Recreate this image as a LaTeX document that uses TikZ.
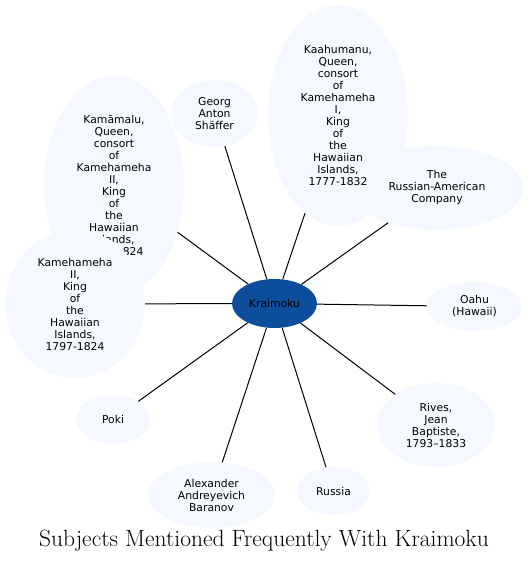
\documentclass[tikz,border=0pt]{standalone}
\usepackage{fontspec}
\newfontfamily\nodefont{DejaVu Sans}
\usetikzlibrary{shapes.geometric}
\definecolor{bubble}{RGB}{245,249,255}
\definecolor{hub}{RGB}{12,78,156}
\tikzset{
  subjtext/.style={inner sep=0pt, align=center,
    font=\nodefont\fontsize{10.8}{12}\selectfont},
  subj/.style={subjtext, ellipse, fill=bubble, draw=none},
  center/.style={subj, fill=hub},
  link/.style={draw=black, line width=1pt}
}
\begin{document}
\begin{tikzpicture}[x=1pt,y=-1pt]
\useasboundingbox (0,0) rectangle (528,564);
\node[center, minimum width=85pt, minimum height=49pt] (k) at (274.5,303.5) {Kraimoku};
\node[subj, minimum width=87pt, minimum height=67pt] (georg) at (214.5,113.5) {Georg\\Anton\\Shäffer};
\node[subj, minimum width=172pt, minimum height=84pt] (rac) at (437,188) {};
\node[subj, minimum width=140pt, minimum height=221pt] (kaah) at (338,115.5) {Kaahumanu,\\Queen,\\consort\\of\\Kamehameha\\I,\\King\\of\\the\\Hawaiian\\Islands,\\1777-1832};
\node[subjtext] (ractext) at (rac.center) {The\\Russian-American\\Company};
\node[subj, minimum width=95pt, minimum height=49pt] (oahu) at (474.5,306.5) {Oahu\\(Hawaii)};
\node[subj, minimum width=140pt, minimum height=220pt] (kama) at (114,185.5) {Kamāmalu,\\Queen,\\consort\\of\\Kamehameha\\II,\\King\\of\\the\\Hawaiian\\Islands,\\1797-1824};
\node[subj, minimum width=140pt, minimum height=148pt] (kam2) at (75,304) {Kamehameha\\II,\\King\\of\\the\\Hawaiian\\Islands,\\1797-1824};
\node[subj, minimum width=74pt, minimum height=49pt] (poki) at (113,419.5) {Poki};
\node[subj, minimum width=127pt, minimum height=66pt] (bar) at (211.5,495) {Alexander\\Andreyevich\\Baranov};
\node[subj, minimum width=73pt, minimum height=48pt] (rus) at (333.5,491) {Russia};
\node[subj, minimum width=118pt, minimum height=84pt] (rives) at (436,425) {Rives,\\Jean\\Baptiste,\\1793–1833};
\foreach \n in {georg,kaah,rac,oahu,kama,kam2,poki,bar,rus,rives}
  \draw[link] (k) -- (\n);
\node[font=\fontsize{23.5}{28}\selectfont, inner sep=0pt] (title) at (264,541) {Subjects Mentioned Frequently With Kraimoku};
\end{tikzpicture}
\end{document}
